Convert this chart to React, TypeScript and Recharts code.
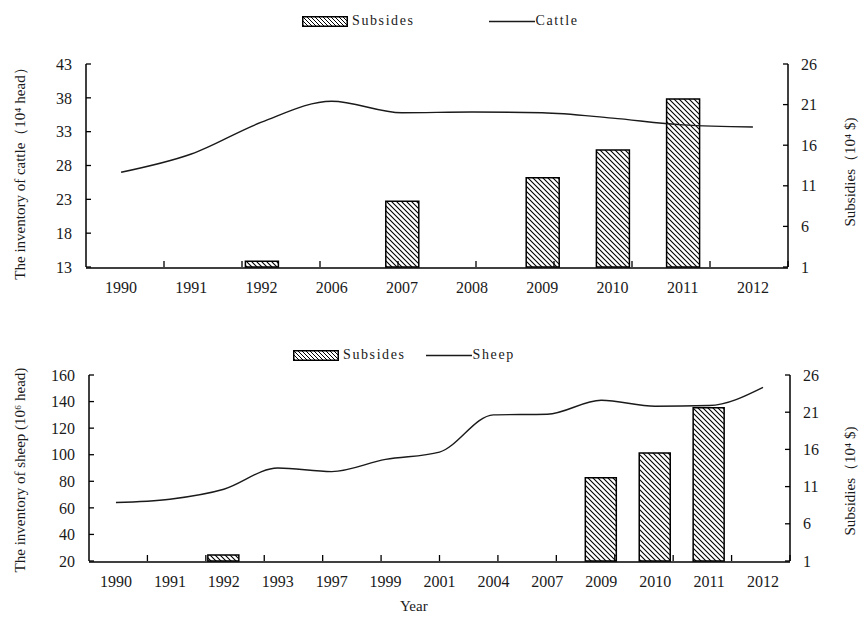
import { ComposedChart, Bar, Line, XAxis, YAxis } from 'recharts'

const cattleYears = ['1990', '1991', '1992', '2006', '2007', '2008', '2009', '2010', '2011', '2012']
const cattle = [27.0, 29.7, 34.4, 37.5, 35.8, 35.9, 35.8, 35.0, 34.0, 33.7]
const cattleSubsidies = [null, null, 1.7, null, 9.1, null, 12.0, 15.4, 21.7, null]

const sheepYears = ['1990', '1991', '1992', '1993', '1997', '1999', '2001', '2004', '2007', '2009', '2010', '2011', '2012']
const sheep = [64, 66.5, 74, 90, 87.3, 96.5, 102, 130, 130.5, 141, 136.5, 137, 150.7]
const sheepSubsidies = [null, null, 1.8, null, null, null, null, null, null, 12.2, 15.5, 21.6, null]

const cattleTicks = [13, 18, 23, 28, 33, 38, 43]
const sheepTicks = [20, 40, 60, 80, 100, 120, 140, 160]
const subsidyTicks = [1, 6, 11, 16, 21, 26]

const FONT = '"Liberation Serif", "Times New Roman", serif'
const INK = '#1a1a1a'

const cattleData = cattleYears.map((year, i) => ({ year, animals: cattle[i], subsidies: cattleSubsidies[i] }))
const sheepData = sheepYears.map((year, i) => ({ year, animals: sheep[i], subsidies: sheepSubsidies[i] }))

const tickStyle = { fontSize: 16, fill: INK, fontFamily: FONT }

function Hatch({ id }: { id: string }) {
  return (
    <defs>
      <pattern id={id} patternUnits="userSpaceOnUse" width={5} height={5}>
        <rect width={5} height={5} fill="#fff" />
        <path d="M0,0 L5,5 M-1,4 L1,6 M4,-1 L6,1" stroke="#000" strokeWidth={1.1} />
      </pattern>
    </defs>
  )
}

function LegendRow({ left, top, barLabel, lineLabel, gap }: { left: number; top: number; barLabel: string; lineLabel: string; gap: number }) {
  const pid = 'lg' + lineLabel
  return (
    <div style={{ position: 'absolute', left, top, display: 'flex', alignItems: 'center', fontFamily: FONT, fontSize: 14, letterSpacing: 1.6, color: INK, whiteSpace: 'nowrap' }}>
      <svg width={46} height={11} style={{ marginRight: 4 }}>
        <defs>
          <pattern id={pid} patternUnits="userSpaceOnUse" width={4} height={4}>
            <rect width={4} height={4} fill="#fff" />
            <path d="M0,0 L4,4 M-1,3 L1,5 M3,-1 L5,1" stroke="#000" strokeWidth={1} />
          </pattern>
        </defs>
        <rect x={0.75} y={0.75} width={44.5} height={9.5} fill={`url(#${pid})`} stroke="#000" strokeWidth={1.5} />
      </svg>
      <span>{barLabel}</span>
      <svg width={46} height={11} style={{ marginLeft: gap, marginRight: 1 }}>
        <line x1={0} y1={5.5} x2={46} y2={5.5} stroke={INK} strokeWidth={1.3} />
      </svg>
      <span>{lineLabel}</span>
    </div>
  )
}

function VLabel({ x, y, text }: { x: number; y: number; text: string }) {
  return (
    <div style={{ position: 'absolute', left: x, top: y, transform: 'translate(-50%, -50%) rotate(-90deg)', fontFamily: FONT, fontSize: 15, color: INK, whiteSpace: 'nowrap' }}>
      {text}
    </div>
  )
}

function Panel({ data, height, top, left, right, bottom, barSize, leftTicks, leftDomain, hatchId }: {
  data: { year: string; animals: number; subsidies: number | null }[]
  height: number; top: number; left: number; right: number; bottom: number; barSize: number
  leftTicks: number[]; leftDomain: [number, number]; hatchId: string
}) {
  const n = data.length
  const boundaries = Array.from({ length: n - 1 }, (_, i) => i + 1)
  return (
    <ComposedChart width={859} height={height} data={data} margin={{ top, right: 0, bottom: bottom - 2, left: 0 }}>
      <Hatch id={hatchId} />
      <XAxis xAxisId="b" type="number" domain={[0, n]} ticks={boundaries} tick={() => <g />} axisLine={false}
        tickSize={-6} height={1} tickLine={{ stroke: '#000', strokeWidth: 1.3 }} />
      <XAxis xAxisId="m" dataKey="year" height={1} tickLine={false} tickSize={0} tickMargin={14}
        axisLine={{ stroke: '#000', strokeWidth: 1.5 }} tick={tickStyle} interval={0} />
      <YAxis yAxisId="l" orientation="left" width={left} domain={leftDomain} ticks={leftTicks} interval={0}
        tickSize={-5} tickMargin={19} axisLine={{ stroke: '#000', strokeWidth: 1.5 }}
        tickLine={{ stroke: '#000', strokeWidth: 1.3 }} tick={tickStyle} />
      <YAxis yAxisId="r" orientation="right" width={right} domain={[1, 26]} ticks={subsidyTicks} interval={0}
        tickSize={-5} tickMargin={18} axisLine={{ stroke: '#000', strokeWidth: 1.5 }}
        tickLine={{ stroke: '#000', strokeWidth: 1.3 }} tick={{ ...tickStyle, textAnchor: 'start' }} />
      <Bar xAxisId="m" yAxisId="r" dataKey="subsidies" barSize={barSize} fill={`url(#${hatchId})`}
        stroke="#000" strokeWidth={1.5} isAnimationActive={false} />
      <Line xAxisId="m" yAxisId="l" type="monotone" dataKey="animals" stroke={INK} strokeWidth={1.4}
        dot={false} activeDot={false} isAnimationActive={false} />
    </ComposedChart>
  )
}

export default function App() {
  return (
    <div style={{ position: 'absolute', left: 0, top: 0, width: 859, height: 619, background: '#fff', overflow: 'hidden' }}>
      <div style={{ position: 'absolute', left: 0, top: 0 }}>
        <Panel data={cattleData} height={300} top={64} left={86} right={71} bottom={33} barSize={33}
          leftTicks={cattleTicks} leftDomain={[13, 43]} hatchId="hatchTop" />
      </div>
      <div style={{ position: 'absolute', left: 0, top: 300 }}>
        <Panel data={sheepData} height={319} top={75} left={89} right={69} bottom={58} barSize={31}
          leftTicks={sheepTicks} leftDomain={[20, 160]} hatchId="hatchBottom" />
      </div>
      <LegendRow left={302} top={13} barLabel="Subsides" lineLabel="Cattle" gap={74} />
      <LegendRow left={293} top={347} barLabel="Subsides" lineLabel="Sheep" gap={20} />
      <VLabel x={20} y={170} text="The inventory of cattle（10⁴ head）" />
      <VLabel x={20} y={470} text="The inventory of sheep (10⁶ head)" />
      <VLabel x={850} y={172} text="Subsidies（10⁴ $)" />
      <VLabel x={850} y={481} text="Subsidies（10⁴ $)" />
      <div style={{ position: 'absolute', left: 400, top: 598, fontFamily: FONT, fontSize: 15, color: INK }}>Year</div>
    </div>
  )
}
